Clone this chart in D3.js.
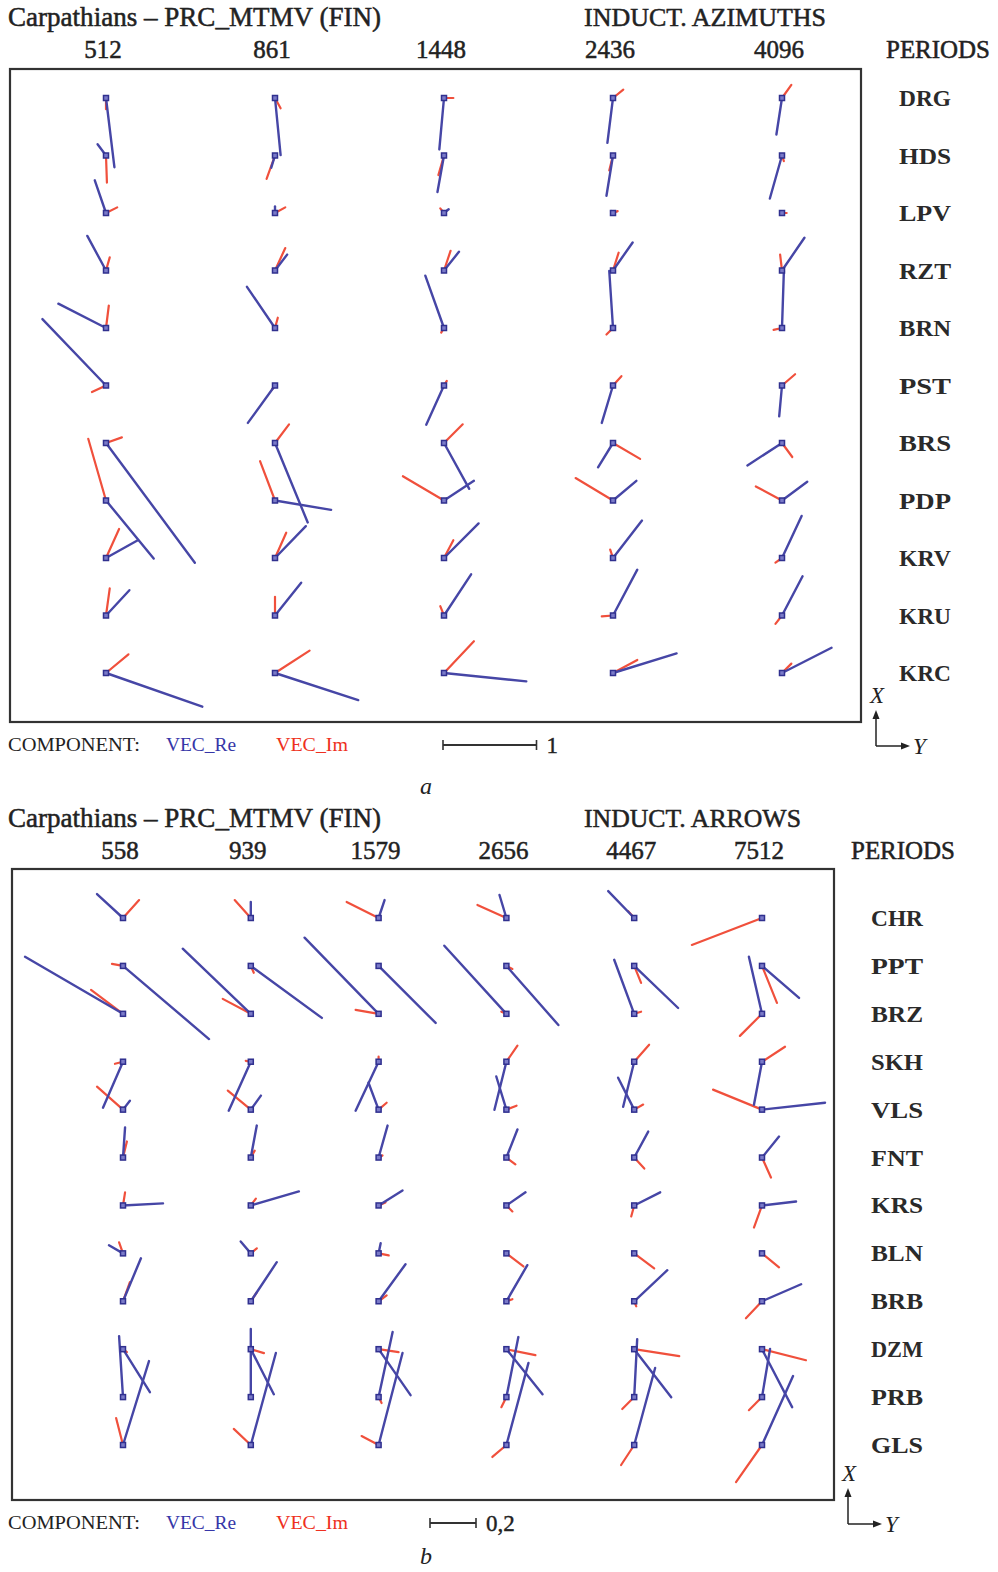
<!DOCTYPE html>
<html><head><meta charset="utf-8">
<script src="https://cdn.jsdelivr.net/npm/d3@7"></script>
<style>
html,body{margin:0;padding:0;background:#fff;}
svg{display:block;}
text{font-family:"Liberation Serif","DejaVu Serif",serif;fill:#222;}
</style></head>
<body>
<svg id="chart" width="998" height="1572"></svg>
<script>
// ---------------- Panel a: INDUCT. AZIMUTHS ----------------
const periodsA = ["512", "861", "1448", "2436", "4096"];
const stationsA = ["DRG", "HDS", "LPV", "RZT", "BRN", "PST", "BRS", "PDP", "KRV", "KRU", "KRC"];
// Y = east component, X = north component (scale bar = 1)
const reYA = [
  [0.09, 0.06, -0.05, -0.06, -0.06],
  [-0.09, -0.04, -0.07, -0.07, -0.13],
  [-0.12, 0.00, 0.05, -0.02, 0.01],
  [-0.20, 0.13, 0.16, 0.21, 0.24],
  [-0.51, -0.30, -0.20, -0.04, 0.02],
  [-0.68, -0.29, -0.19, -0.12, -0.03],
  [0.95, 0.35, 0.27, -0.16, -0.37],
  [0.51, 0.60, 0.32, 0.25, 0.27],
  [0.34, 0.33, 0.37, 0.31, 0.21],
  [0.25, 0.28, 0.29, 0.26, 0.22],
  [1.03, 0.89, 0.88, 0.68, 0.53]
];
const reXA = [
  [-0.74, -0.61, -0.55, -0.48, -0.39],
  [0.12, -0.13, -0.39, -0.43, -0.46],
  [0.35, 0.07, 0.04, 0.02, 0.00],
  [0.37, 0.17, 0.20, 0.30, 0.35],
  [0.26, 0.44, 0.56, 0.61, 0.61],
  [0.71, -0.40, -0.42, -0.40, -0.33],
  [-1.28, -0.85, -0.49, -0.26, -0.24],
  [-0.62, -0.10, 0.21, 0.21, 0.20],
  [0.19, 0.34, 0.37, 0.40, 0.45],
  [0.27, 0.35, 0.44, 0.49, 0.42],
  [-0.36, -0.29, -0.09, 0.21, 0.27]
];
const imYA = [
  [0.00, 0.06, 0.10, 0.11, 0.10],
  [0.01, -0.09, -0.06, -0.04, 0.02],
  [0.12, 0.11, -0.04, 0.05, 0.05],
  [0.04, 0.11, 0.07, 0.06, -0.02],
  [0.03, 0.03, -0.03, -0.07, -0.09],
  [-0.15, -0.03, 0.03, 0.09, 0.14],
  [0.17, 0.15, 0.20, 0.29, 0.11],
  [-0.19, -0.16, -0.44, -0.40, -0.28],
  [0.14, 0.12, 0.10, -0.03, -0.07],
  [0.04, 0.00, -0.04, -0.12, -0.07],
  [0.24, 0.37, 0.32, 0.26, 0.10]
];
const imXA = [
  [-0.12, -0.11, 0.00, 0.09, 0.14],
  [-0.29, -0.25, -0.21, -0.16, -0.06],
  [0.06, 0.06, 0.05, 0.02, 0.00],
  [0.14, 0.24, 0.21, 0.19, 0.17],
  [0.24, 0.11, -0.05, -0.07, -0.02],
  [-0.07, -0.04, 0.05, 0.10, 0.12],
  [0.06, 0.20, 0.20, -0.17, -0.15],
  [0.66, 0.42, 0.26, 0.24, 0.15],
  [0.31, 0.27, 0.19, 0.09, -0.05],
  [0.29, 0.20, 0.10, -0.01, -0.09],
  [0.20, 0.24, 0.34, 0.14, 0.10]
];

// ---------------- Panel b: INDUCT. ARROWS ----------------
const periodsB = ["558", "939", "1579", "2656", "4467", "7512"];
const stationsB = ["CHR", "PPT", "BRZ", "SKH", "VLS", "FNT", "KRS", "BLN", "BRB", "DZM", "PRB", "GLS"];
const reYB = [
  [-0.113, 0.000, 0.026, -0.030, -0.113, 0.000],
  [0.374, 0.309, 0.248, 0.226, 0.191, 0.161],
  [-0.426, -0.296, -0.322, -0.270, -0.087, -0.057],
  [-0.087, -0.096, -0.100, -0.052, -0.048, -0.035],
  [0.030, 0.044, -0.044, -0.044, -0.070, 0.274],
  [0.009, 0.026, 0.039, 0.048, 0.061, 0.074],
  [0.174, 0.209, 0.104, 0.083, 0.113, 0.148],
  [-0.061, -0.044, 0.009, 0.004, 0.000, 0.004],
  [0.078, 0.113, 0.117, 0.091, 0.144, 0.170],
  [0.117, 0.100, 0.139, 0.157, 0.161, 0.131],
  [-0.017, 0.000, 0.061, 0.052, 0.013, 0.035],
  [0.113, 0.109, 0.104, 0.096, 0.091, 0.135]
];
const reXB = [
  [0.104, 0.070, 0.078, 0.100, 0.117, 0.009],
  [-0.318, -0.226, -0.248, -0.257, -0.183, -0.139],
  [0.248, 0.283, 0.331, 0.296, 0.235, 0.248],
  [-0.200, -0.213, -0.213, -0.209, -0.196, -0.187],
  [0.039, 0.061, 0.117, 0.144, 0.139, 0.030],
  [0.131, 0.139, 0.139, 0.122, 0.113, 0.091],
  [0.009, 0.061, 0.065, 0.057, 0.057, 0.017],
  [0.035, 0.052, 0.044, 0.004, 0.004, 0.004],
  [0.187, 0.170, 0.161, 0.157, 0.135, 0.074],
  [-0.187, -0.196, -0.200, -0.196, -0.209, -0.252],
  [0.265, 0.296, 0.283, 0.261, 0.252, 0.209],
  [0.365, 0.400, 0.400, 0.357, 0.335, 0.300]
];
const imYB = [
  [0.070, -0.070, -0.139, -0.126, -0.026, -0.305],
  [-0.048, 0.013, 0.004, 0.026, 0.030, 0.065],
  [-0.139, -0.122, -0.100, -0.022, 0.030, -0.096],
  [-0.035, -0.022, 0.000, 0.048, 0.065, 0.100],
  [-0.113, -0.100, 0.035, 0.044, 0.039, -0.213],
  [0.017, 0.017, 0.017, 0.039, 0.044, 0.039],
  [0.009, 0.022, 0.030, 0.026, -0.013, -0.035],
  [-0.017, 0.026, 0.044, 0.074, 0.087, 0.074],
  [0.030, 0.026, 0.035, 0.026, 0.009, -0.070],
  [0.017, 0.057, 0.087, 0.126, 0.196, 0.191],
  [0.004, 0.004, 0.013, -0.022, -0.052, -0.057],
  [-0.030, -0.074, -0.074, -0.061, -0.057, -0.113]
];
const imXB = [
  [0.078, 0.078, 0.070, 0.057, 0.030, -0.117],
  [0.009, -0.030, 0.000, -0.013, -0.074, -0.161],
  [0.104, 0.065, 0.017, 0.009, 0.009, -0.096],
  [-0.009, 0.004, 0.022, 0.070, 0.074, 0.065],
  [0.100, 0.083, 0.030, 0.017, 0.022, 0.087],
  [0.070, 0.030, 0.009, -0.030, -0.048, -0.087],
  [0.057, 0.030, 0.013, -0.026, -0.048, -0.096],
  [0.048, 0.022, -0.009, -0.057, -0.065, -0.061],
  [0.083, 0.039, 0.026, 0.009, -0.022, -0.074],
  [-0.013, -0.017, -0.013, -0.026, -0.030, -0.048],
  [-0.004, -0.004, -0.026, -0.044, -0.052, -0.057],
  [0.117, 0.070, 0.039, -0.052, -0.087, -0.161]
];

const titleText = "Carpathians \u2013 PRC_MTMV (FIN)";
const headA = "INDUCT. AZIMUTHS";
const headB = "INDUCT. ARROWS";
const scaleLabelA = "1", scaleValueA = 1;
const scaleLabelB = "0,2", scaleValueB = 0.2;

const BLUE = "#4646a6", RED = "#f0503c", LBLUE = "#3636a8", LRED = "#ee3020";
const svg = d3.select("#chart");

function txt(g, x, y, s, o) {
  o = o || {};
  const t = g.append("text").attr("x", x).attr("y", y).text(s)
    .attr("font-size", o.size || 25);
  if (o.anchor) t.attr("text-anchor", o.anchor);
  if (o.weight) t.attr("font-weight", o.weight);
  if (o.style) t.attr("font-style", o.style);
  if (o.fill) t.style("fill", o.fill);
  if (o.stroke) t.style("stroke", o.fill || "#222").style("stroke-width", o.stroke);
  if (o.len) t.attr("textLength", o.len).attr("lengthAdjust", "spacingAndGlyphs");
  return t;
}

function panel(cfg) {
  const g = svg.append("g");
  const xP = d3.scalePoint().domain(cfg.periods).range(cfg.xr);
  const yP = d3.scalePoint().domain(cfg.stations).range(cfg.yr);
  const L = d3.scaleLinear().domain([0, cfg.unit]).range([0, cfg.unitPx]);

  // header
  txt(g, 8, cfg.titleY, titleText, {size: 27, len: 373, stroke: 0.5});
  txt(g, 584, cfg.titleY, cfg.head, {size: 26, len: cfg.headLen, stroke: 0.5});
  cfg.periods.forEach(p => txt(g, xP(p) + cfg.plOff, cfg.perY, p, {size: 25, anchor: "middle", stroke: 0.5}));
  txt(g, cfg.perLabX, cfg.perY, "PERIODS", {size: 25, len: 104, stroke: 0.5});

  // frame
  g.append("rect").attr("x", cfg.frame[0]).attr("y", cfg.frame[1])
    .attr("width", cfg.frame[2] - cfg.frame[0]).attr("height", cfg.frame[3] - cfg.frame[1])
    .attr("fill", "none").attr("stroke", "#333").attr("stroke-width", 2.2);

  // station labels
  cfg.stations.forEach(s => txt(g, cfg.stX, yP(s) + 8, s, {size: 23.5, weight: "bold", fill: "#2a2a2a", len: 52}));

  // vectors
  const cells = [];
  cfg.stations.forEach((s, i) => cfg.periods.forEach((p, j) => cells.push({
    s, p, rY: cfg.reY[i][j], rX: cfg.reX[i][j], iY: cfg.imY[i][j], iX: cfg.imX[i][j]
  })));
  const vg = g.append("g").attr("stroke-linecap", "round");
  vg.selectAll("line.im").data(cells).join("line").attr("class", "im")
    .attr("x1", d => xP(d.p)).attr("y1", d => yP(d.s))
    .attr("x2", d => xP(d.p) + L(d.iY)).attr("y2", d => yP(d.s) - L(d.iX))
    .attr("stroke", RED).attr("stroke-width", 2.2);
  vg.selectAll("line.re").data(cells).join("line").attr("class", "re")
    .attr("x1", d => xP(d.p)).attr("y1", d => yP(d.s))
    .attr("x2", d => xP(d.p) + L(d.rY)).attr("y2", d => yP(d.s) - L(d.rX))
    .attr("stroke", BLUE).attr("stroke-width", 2.4);
  vg.selectAll("rect.o").data(cells).join("rect").attr("class", "o")
    .attr("x", d => xP(d.p) - 2.5).attr("y", d => yP(d.s) - 2.5)
    .attr("width", 5).attr("height", 5)
    .attr("fill", "#7a7ac8").attr("stroke", "#30308f").attr("stroke-width", 1.5);

  // legend
  const ly = cfg.legY;
  txt(g, 8, ly + 6, "COMPONENT:", {size: 18, len: 132});
  txt(g, 166, ly + 6, "VEC_Re", {size: 19, len: 70, fill: LBLUE});
  txt(g, 276, ly + 6, "VEC_Im", {size: 19, len: 72, fill: LRED});
  const bx0 = cfg.barX, bx1 = cfg.barX + L(cfg.unit);
  g.append("line").attr("x1", bx0).attr("x2", bx1).attr("y1", ly).attr("y2", ly)
    .attr("stroke", "#333").attr("stroke-width", 1.8);
  [bx0, bx1].forEach(x => g.append("line").attr("x1", x).attr("x2", x)
    .attr("y1", ly - 5).attr("y2", ly + 5).attr("stroke", "#333").attr("stroke-width", 1.6));
  txt(g, bx1 + 10, ly + 8, cfg.unitLabel, {size: 23, stroke: 0.4});

  // X / Y orientation
  const ax = cfg.axX, ay = ly + 1;
  g.append("line").attr("x1", ax).attr("x2", ax).attr("y1", ay).attr("y2", ay - 30)
    .attr("stroke", "#222").attr("stroke-width", 1.5);
  g.append("path").attr("d", `M${ax - 3.5},${ay - 27} L${ax},${ay - 36} L${ax + 3.5},${ay - 27} Z`).attr("fill", "#222");
  g.append("line").attr("x1", ax).attr("x2", ax + 28).attr("y1", ay).attr("y2", ay)
    .attr("stroke", "#222").attr("stroke-width", 1.5);
  g.append("path").attr("d", `M${ax + 25},${ay - 3.5} L${ax + 34},${ay} L${ax + 25},${ay + 3.5} Z`).attr("fill", "#222");
  txt(g, ax - 6, ay - 43, "X", {size: 23, style: "italic"});
  txt(g, ax + 37, ay + 8, "Y", {size: 23, style: "italic"});

  // panel letter
  txt(g, 426, cfg.letterY, cfg.letter, {size: 24, style: "italic", anchor: "middle"});
}

panel({
  periods: periodsA, stations: stationsA, reY: reYA, reX: reXA, imY: imYA, imX: imXA,
  xr: [106, 782], yr: [98, 673], unit: scaleValueA, unitPx: 93.5, unitLabel: scaleLabelA,
  head: headA, headLen: 242, titleY: 26, perY: 58, plOff: -3, perLabX: 886,
  frame: [10, 69, 861, 722], stX: 899, legY: 745, barX: 443, axX: 876,
  letter: "a", letterY: 794
});
panel({
  periods: periodsB, stations: stationsB, reY: reYB, reX: reXB, imY: imYB, imX: imXB,
  xr: [123, 762], yr: [918, 1445], unit: scaleValueB, unitPx: 46, unitLabel: scaleLabelB,
  head: headB, headLen: 217, titleY: 827, perY: 859, plOff: -3, perLabX: 851,
  frame: [12, 869, 834, 1500], stX: 871, legY: 1523, barX: 430, axX: 848,
  letter: "b", letterY: 1564
});
</script>
</body></html>
